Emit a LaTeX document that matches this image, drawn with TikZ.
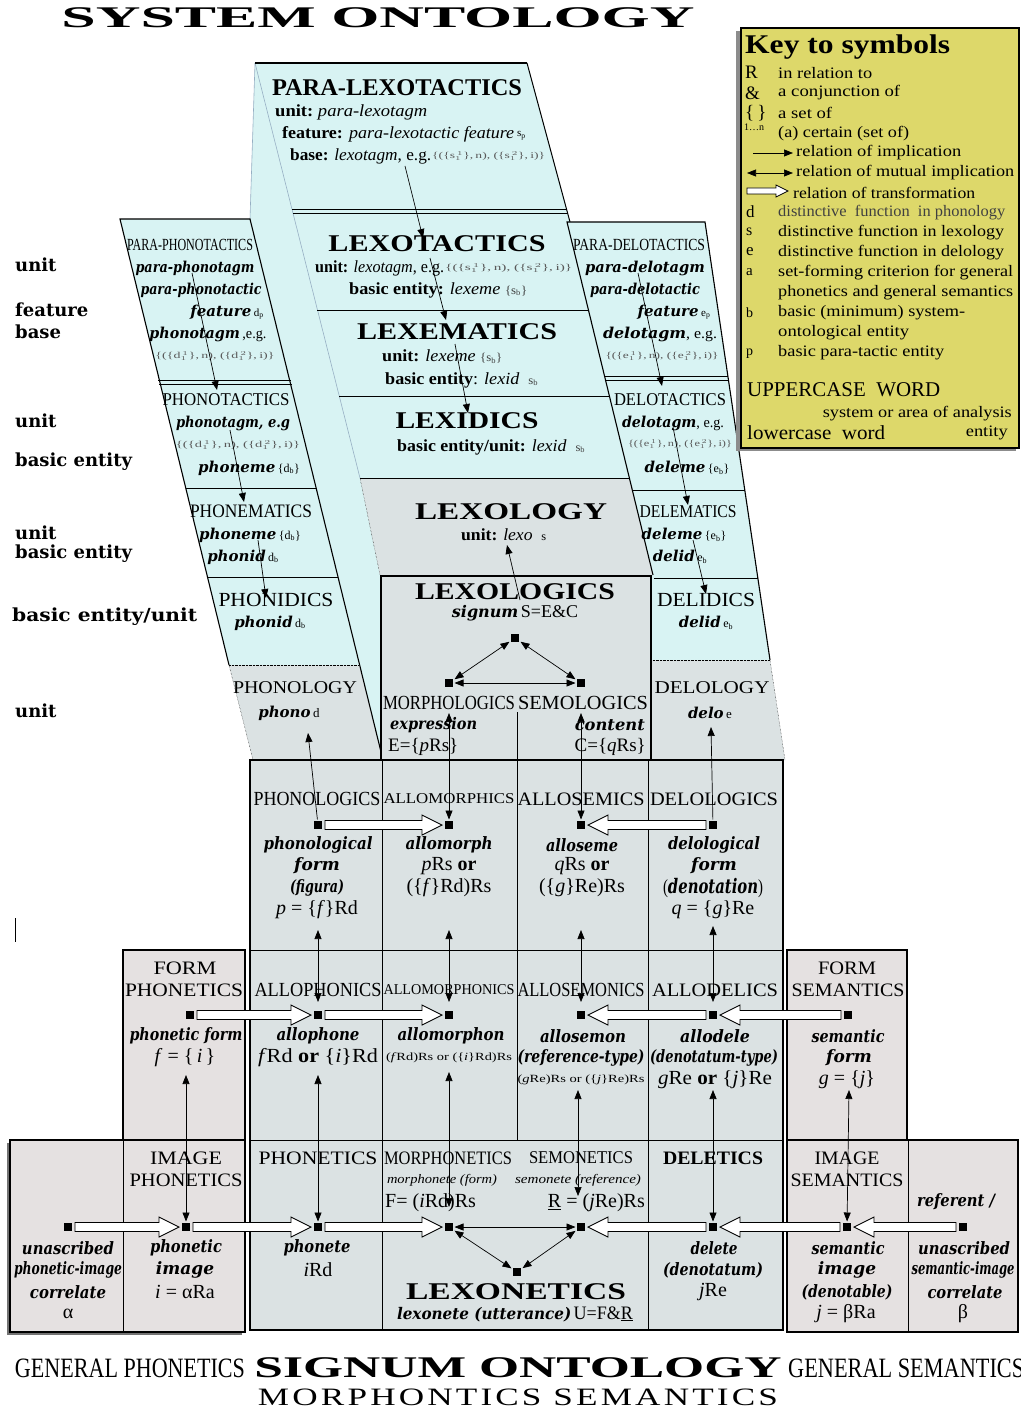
\documentclass[tikz,border=0pt]{standalone}
\usepackage{fontspec}
\usepackage{graphicx}
\setmainfont{Liberation Serif}
\newfontfamily\dv{DejaVu Serif}
\newfontfamily\lsp[LetterSpace=9]{Liberation Serif}
\usetikzlibrary{arrows.meta,calc}
\definecolor{cy}{RGB}{216,243,243}
\definecolor{gy}{RGB}{219,226,227}
\definecolor{pk}{RGB}{229,225,225}
\definecolor{ky}{RGB}{221,216,106}
\definecolor{edgeb}{RGB}{150,175,195}
\newcommand\fs[1]{\fontsize{#1}{#1}\selectfont}
\newcommand\fw[2]{\resizebox{#1pt}{\height}{#2}}
\newcommand\bi[1]{{\dv\bfseries\itshape #1}}
\newcommand\fm[1]{{\fs{9}\color{black!65}\{(\{#1$_1^{\,1}$\},\,n), (\{#1$_1^{\,2}$\},\,i)\}}}
\newcommand\warrR[2]{\draw[warrow] let \p1=(#1), \p2=(#2) in ({\x1+7pt},{\y1+4.5pt}) -- ({\x2-27pt},{\y1+4.5pt}) -- ({\x2-27pt},{\y1+10pt}) -- ({\x2-7pt},{\y1}) -- ({\x2-27pt},{\y1-10pt}) -- ({\x2-27pt},{\y1-4.5pt}) -- ({\x1+7pt},{\y1-4.5pt}) -- cycle;}
\newcommand\warrL[2]{\draw[warrow] let \p1=(#1), \p2=(#2) in ({\x1-7pt},{\y1+4.5pt}) -- ({\x2+27pt},{\y1+4.5pt}) -- ({\x2+27pt},{\y1+10pt}) -- ({\x2+7pt},{\y1}) -- ({\x2+27pt},{\y1-10pt}) -- ({\x2+27pt},{\y1-4.5pt}) -- ({\x1-7pt},{\y1-4.5pt}) -- cycle;}
\newcommand\warrS[2]{\draw[warrow,line width=0.7pt] let \p1=(#1), \p2=(#2) in ({\x1},{\y1+3pt}) -- ({\x2-12pt},{\y1+3pt}) -- ({\x2-12pt},{\y1+6pt}) -- ({\x2},{\y1}) -- ({\x2-12pt},{\y1-6pt}) -- ({\x2-12pt},{\y1-3pt}) -- ({\x1},{\y1-3pt}) -- cycle;}
\begin{document}
\begin{tikzpicture}[x=1pt,y=-1pt,
  t/.style={inner sep=0pt,anchor=west},
  c/.style={inner sep=0pt,anchor=center},
  e/.style={inner sep=0pt,anchor=east},
  sq/.style={fill=black,minimum size=8pt,inner sep=0pt,outer sep=1.5pt},
  imp/.style={-{Triangle[length=9pt,width=7pt]},line width=0.7pt},
  mut/.style={{Triangle[length=9pt,width=7pt]}-{Triangle[length=9pt,width=7pt]},line width=0.7pt},
  warrow/.style={draw=black,fill=white,line width=0.9pt,line join=miter}]
\useasboundingbox (0,0) rectangle (1020,1412);
\fill[white] (0,0) rectangle (1020,1412);

% ---------------- upper structure ----------------
\fill[cy] (255,63) -- (360,478) -- (380,575) -- (380,760) -- (383,760) -- (250,219) -- cycle;
\fill[cy] (255,63) -- (527,63) -- (640,478) -- (360,478) -- cycle;
\draw[edgeb,line width=0.6pt] (255,63) -- (360,478);
\draw[edgeb,line width=0.6pt] (255,63) -- (250,219);
\draw[line width=1.6pt] (255,63) -- (527,63);
\draw[line width=1pt] (527,63) -- (570,222);
\fill[gy] (360,478) -- (640,478) -- (653,575) -- (380,575) -- cycle;
\draw[densely dotted] (360,478) -- (380,575);
\draw (292,209) -- (567,209);
\draw (293,213) -- (568,213);
\draw (317,310) -- (590,310);
\draw (339,396) -- (610,396);
\draw (360,478) -- (630,478);
% left column
\fill[cy] (120,219) -- (250,219) -- (359,665) -- (229,665) -- cycle;
\fill[gy] (229,665) -- (359,665) -- (383,760) -- (253,760) -- cycle;
\draw[line width=1.1pt] (229,665) -- (120,219) -- (250,219) -- (383,760);
\draw[densely dotted] (229,665) -- (253,760);
\draw[densely dotted] (229,665) -- (359,665);
\draw (158,380) -- (291,380);
\draw (159,384) -- (292,384);
\draw (186,488) -- (316,488);
\draw (208,577) -- (338,577);
% right column
\fill[cy] (567,222) -- (705,222) -- (770,660) -- (650,660) -- (650,575) -- (653,575) -- cycle;
\fill[gy] (650,660) -- (770,660) -- (785,760) -- (650,760) -- cycle;
\draw[line width=1.1pt] (653,575) -- (567,222) -- (705,222) -- (770,660);
\draw[densely dotted] (770,660) -- (785,760);
\draw[densely dotted] (650,660) -- (770,660);
\draw (605,376) -- (728,376);
\draw (606,380) -- (729,380);
\draw (632,490) -- (745,490);
\draw (654,578) -- (758,578);
% lexologics box
\node[draw,line width=1.8pt,fill=gy,minimum width=270pt,minimum height=185pt,inner sep=0pt,anchor=north west] (lxbox) at (380,575) {};
\draw (517,712) -- (517,760);

% ---------------- lower grid ----------------
\fill[gy] (250,760) rectangle (783,1330);
\draw (382,760) -- (382,1330);
\draw (517,760) -- (517,1140);
\draw (648,760) -- (648,1330);
\draw (250,950) -- (783,950);
\draw (250,1140) -- (783,1140);
\draw[line width=2pt] (250,760) rectangle (783,1330);
\fill[black!55] (7,1143) rectangle (242,1335);
\draw[fill=pk,line width=2pt] (123,950) rectangle (245,1140);
\draw[fill=pk,line width=2pt] (10,1140) rectangle (245,1332);
\draw (123,1140) -- (123,1332);
\draw[fill=pk,line width=2pt] (787,950) rectangle (907,1140);
\draw[fill=pk,line width=2pt] (787,1140) rectangle (1018,1332);
\draw (908,1140) -- (908,1332);
\draw (15,918) -- (15,942);

% ---------------- key ----------------
\fill[black!45] (736,31) rectangle (1016,451);
\node[draw,fill=ky,line width=1.6pt,inner sep=0pt,minimum width=278pt,minimum height=420pt,anchor=north west] (key) at (740,27) {};
\node[t] (k0) at (745,47) {\fw{205}{\fs{27}\bfseries Key to symbols}};
\node[t] (ks1) at (745,72) {\fs{19}R};
\node[t] (kd1) at (778,73) {\fw{94}{\fs{16}in relation to}};
\node[t] (ks2) at (745,93) {\fs{19}\&};
\node[t] (kd2) at (778,93) {\fw{122}{\fs{16}a conjunction of}};
\node[t] (ks3) at (745,113) {\fs{19}\{\,\}};
\node[t] (kd3) at (778,113) {\fw{54}{\fs{16}a set of}};
\node[t] (ks4) at (744,127) {\fs{10}1\dots n};
\node[t] (kd4) at (778,134) {\fw{131}{\fs{16}(a) certain (set of)}};
\coordinate (ka1) at (753,153); \coordinate (kb1) at (793,153);
\draw[imp] (ka1) -- (kb1);
\node[t] (kd5) at (796,153) {\fw{165}{\fs{16}relation of implication}};
\coordinate (ka2) at (747,173); \coordinate (kb2) at (793,173);
\draw[mut] (ka2) -- (kb2);
\node[t] (kd6) at (796,173) {\fw{218}{\fs{16}relation of mutual implication}};
\coordinate (ka3) at (747,191); \coordinate (kb3) at (788,191);
\warrS{ka3}{kb3}
\node[t] (kd7) at (793,193) {\fw{182}{\fs{16}relation of transformation}};
\node[t] (ks8) at (746,212) {\fs{17}d};
\node[t] (kd8) at (778,213) {\fw{227}{\fs{16}\color{black!75}distinctive\ \ function\ \ in phonology}};
\node[t] (ks9) at (746,232) {\fs{16}s};
\node[t] (kd9) at (778,233) {\fw{226}{\fs{16}distinctive function in lexology}};
\node[t] (ks10) at (746,252) {\fs{17}e};
\node[t] (kd10) at (778,253) {\fw{226}{\fs{16}distinctive function in delology}};
\node[t] (ks11) at (746,272) {\fs{15}a};
\node[t] (kd11) at (778,273) {\fw{235}{\fs{16}set-forming criterion for general}};
\node[t] (kd12) at (778,293) {\fw{235}{\fs{16}phonetics and general semantics}};
\node[t] (ks13) at (746,313) {\fs{14}b};
\node[t] (kd13) at (778,313) {\fw{187}{\fs{16}basic (minimum) system-}};
\node[t] (kd14) at (778,333) {\fw{131}{\fs{16}ontological entity}};
\node[t] (ks15) at (746,354) {\fs{14}p};
\node[t] (kd15) at (778,353) {\fw{166}{\fs{16}basic para-tactic entity}};
\node[t] (kd16) at (747,390) {\fw{193}{\fs{21}UPPERCASE\ \ WORD}};
\node[e] (kd17) at (1012,414) {\fw{189}{\fs{16}system or area of analysis}};
\node[t] (kd18) at (747,433) {\fw{138}{\fs{20}lowercase\ \ word}};
\node[e] (kd19) at (1008,433) {\fw{42}{\fs{16}entity}};

% ---------------- titles ----------------
\node[c] (title) at (378,18) {\fw{633}{\fs{30}\bfseries SYSTEM ONTOLOGY}};
\node[c] (gp) at (130,1368) {\fw{230}{\fs{28}GENERAL PHONETICS}};
\node[c] (so) at (518,1368) {\fw{527}{\fs{30}\bfseries SIGNUM ONTOLOGY}};
\node[t] (gs) at (788,1368) {\fw{236}{\fs{28}GENERAL SEMANTICS}};
\node[c] (ms) at (518,1397) {\fw{520}{\lsp\fs{25}MORPHONTICS SEMANTICS}};

% ---------------- left labels ----------------
\node[t] (lu1) at (15,265) {\dv\bfseries\fs{18}unit};
\node[t] (lf1) at (15,310) {\dv\bfseries\fs{18}feature};
\node[t] (lb1) at (15,332) {\dv\bfseries\fs{18}base};
\node[t] (lu2) at (15,421) {\dv\bfseries\fs{18}unit};
\node[t] (le2) at (15,462) {\dv\bfseries\fs{18}basic entity};
\node[t] (lu3) at (15,533) {\dv\bfseries\fs{18}unit};
\node[t] (le3) at (15,554) {\dv\bfseries\fs{18}basic entity};
\node[t] (le4) at (12,617) {\fw{185}{\dv\bfseries\fs{18}basic entity/unit}};
\node[t] (lu5) at (15,711) {\dv\bfseries\fs{18}unit};

% ---------------- central column texts ----------------
\node[c] (plx) at (397,88) {\fw{250}{\fs{24}\bfseries PARA-LEXOTACTICS}};
\node[t] (plx1) at (275,112) {\fw{152}{\fs{17}\textbf{unit:}\ \textit{para-lexotagm}}};
\node[t] (plx2) at (282,134) {\fw{232}{\fs{17}\textbf{feature:} \textit{para-lexotactic feature}}};
\node[t] (plx2s) at (517,136) {\fs{11}s\textsubscript{p}};
\node[t] (plx3) at (290,156) {\fw{141}{\fs{17}\textbf{base:} \textit{lexotagm}, e.g.}};
\node[t] (plx3f) at (432,156) {\fw{113}{\fm{s}}};
\node[c] (lxt) at (437,244) {\fw{217}{\fs{24}\bfseries LEXOTACTICS}};
\node[t] (lxt1) at (315,268) {\fw{129}{\fs{17}\textbf{unit:} \textit{lexotagm}, e.g.}};
\node[t] (lxt1f) at (445,268) {\fw{127}{\fm{s}}};
\node[t] (lxt2) at (349,290) {\fw{178}{\fs{17}\textbf{basic entity:} \textit{lexeme} {\fs{12}\color{black!75}\{s\textsubscript{b}\}}}};
\node[c] (lxm) at (457,332) {\fw{200}{\fs{24}\bfseries LEXEMATICS}};
\node[t] (lxm1) at (382,357) {\fw{120}{\fs{17}\textbf{unit:} \textit{lexeme} {\fs{12}\color{black!75}\{s\textsubscript{b}\}}}};
\node[t] (lxm2) at (385,380) {\fw{153}{\fs{17}\textbf{basic entity}: \textit{lexid}\ \ {\fs{12}\color{black!75}s\textsubscript{b}}}};
\node[c] (lxd) at (467,421) {\fw{143}{\fs{24}\bfseries LEXIDICS}};
\node[t] (lxd1) at (397,447) {\fw{188}{\fs{17}\textbf{basic entity/unit:} \textit{lexid}\ \ {\fs{12}\color{black!75}s\textsubscript{b}}}};
\node[c] (lxy) at (511,512) {\fw{192}{\fs{24}\bfseries LEXOLOGY}};
\node[t] (lxy1) at (461,535) {\fw{85}{\fs{17}\textbf{unit:} \textit{lexo}\ \ {\fs{12}s}}};

% ---------------- left column texts ----------------
\node[c] (pph) at (190,245) {\fw{126}{\fs{17}PARA-PHONOTACTICS}};
\node[c] (pph1) at (195,268) {\fw{119}{\bi{\fs{15}para-phonotagm}}};
\node[c] (pph2) at (201,290) {\fw{121}{\bi{\fs{15}para-phonotactic}}};
\node[c] (pph3) at (227,312) {\bi{\fs{15}feature} {\fs{11}d\textsubscript{p}}};
\node[c] (pph4) at (208,334) {\fw{117}{\bi{\fs{15}phonotagm} {\fs{15},e.g.}}};
\node[c] (pph5) at (215,356) {\fw{119}{\fm{d}}};
\node[c] (pht) at (226,400) {\fw{127}{\fs{18}PHONOTACTICS}};
\node[c] (pht1) at (233,423) {\fw{114}{\bi{\fs{15}phonotagm, e.g}}};
\node[c] (pht2) at (238,445) {\fw{124}{\fm{d}}};
\node[c] (pht3) at (249,468) {\bi{\fs{15}phoneme} {\fs{12}\{d\textsubscript{b}\}}};
\node[c] (phm) at (251,511) {\fw{122}{\fs{19}PHONEMATICS}};
\node[c] (phm1) at (250,535) {\bi{\fs{15}phoneme} {\fs{12}\{d\textsubscript{b}\}}};
\node[c] (phm2) at (243,557) {\bi{\fs{15}phonid} {\fs{12}d\textsubscript{b}}};
\node[c] (phd) at (276,600) {\fw{115}{\fs{20}PHONIDICS}};
\node[c] (phd1) at (270,623) {\bi{\fs{15}phonid} {\fs{12}d\textsubscript{b}}};
\node[c] (pho) at (295,688) {\fw{124}{\fs{18}PHONOLOGY}};
\node[c] (pho1) at (289,713) {\bi{\fs{15}phono} {\fs{13}d}};

% ---------------- right column texts ----------------
\node[c] (pdl) at (639,245) {\fw{132}{\fs{17}PARA-DELOTACTICS}};
\node[c] (pdl1) at (645,268) {\fw{120}{\bi{\fs{15}para-delotagm}}};
\node[c] (pdl2) at (645,290) {\fw{110}{\bi{\fs{15}para-delotactic}}};
\node[c] (pdl3) at (674,312) {\bi{\fs{15}feature} {\fs{11}e\textsubscript{p}}};
\node[c] (pdl4) at (660,334) {\fw{114}{\bi{\fs{15}delotagm}{\fs{15}, e.g.}}};
\node[c] (pdl5) at (662,356) {\fw{113}{\fm{e}}};
\node[c] (dlt) at (670,400) {\fw{112}{\fs{18}DELOTACTICS}};
\node[c] (dlt1) at (673,423) {\fw{102}{\bi{\fs{15}delotagm}{\fs{15}, e.g.}}};
\node[c] (dlt2) at (680,444) {\fw{104}{\fm{e}}};
\node[c] (dlt3) at (687,468) {\bi{\fs{15}deleme} {\fs{12}\{e\textsubscript{b}\}}};
\node[c] (dlm) at (688,512) {\fw{97}{\fs{18}DELEMATICS}};
\node[c] (dlm1) at (684,535) {\bi{\fs{15}deleme} {\fs{12}\{e\textsubscript{b}\}}};
\node[c] (dlm2) at (680,557) {\bi{\fs{15}delid} {\fs{12}e\textsubscript{b}}};
\node[c] (dld) at (706,600) {\fw{98}{\fs{20}DELIDICS}};
\node[c] (dld1) at (706,623) {\bi{\fs{15}delid} {\fs{12}e\textsubscript{b}}};
\node[c] (dlo) at (712,688) {\fw{115}{\fs{18}DELOLOGY}};
\node[c] (dlo1) at (710,713) {\bi{\fs{15}delo} {\fs{13}e}};

% ---------------- lexologics texts ----------------
\node[c] (lgs) at (515,592) {\fw{200}{\fs{24}\bfseries LEXOLOGICS}};
\node[c] (lgs1) at (515,613) {\bi{\fs{16}signum} {\fs{18}S=E\&C}};
\node[c] (mlg) at (449,703) {\fw{132}{\fs{20}MORPHOLOGICS}};
\node[c] (slg) at (583,703) {\fw{130}{\fs{20}SEMOLOGICS}};
\node[t] (mlg1) at (390,725) {\fw{87}{\bi{\fs{16}expression}}};
\node[t] (mlg2) at (388,747) {\fs{19}E=\{\textit{p}Rs\}};
\node[e] (slg1) at (645,725) {\fw{70}{\bi{\fs{16}content}}};
\node[e] (slg2) at (646,747) {\fs{19}C=\{\textit{q}Rs\}};

% ---------------- row 1 ----------------
\node[c] (h11) at (317,799) {\fw{127}{\fs{20}PHONOLOGICS}};
\node[c] (h12) at (449,799) {\fw{131}{\fs{15}ALLOMORPHICS}};
\node[c] (h13) at (581,799) {\fw{127}{\fs{19}ALLOSEMICS}};
\node[c] (h14) at (714,799) {\fw{128}{\fs{19}DELOLOGICS}};
\node[c] (r11a) at (318,845) {\fw{109}{\bi{\fs{17}phonological}}};
\node[c] (r11b) at (317,866) {\bi{\fs{17}form}};
\node[c] (r11c) at (317,888) {\fw{54}{\bi{\fs{17}(figura)}}};
\node[c] (r11d) at (317,910) {\fs{20}\textit{p} = \{\textit{f}\}Rd};
\node[c] (r12a) at (449,845) {\fw{87}{\bi{\fs{17}allomorph}}};
\node[c] (r12b) at (449,866) {\fs{20}\textit{p}Rs \textbf{or}};
\node[c] (r12c) at (449,888) {\fs{20}(\{\textit{f}\}Rd)Rs};
\node[c] (r13a) at (582,845) {\fw{72}{\bi{\fs{17}alloseme}}};
\node[c] (r13b) at (582,866) {\fs{20}\textit{q}Rs \textbf{or}};
\node[c] (r13c) at (582,888) {\fs{20}(\{\textit{g}\}Re)Rs};
\node[c] (r14a) at (714,845) {\fw{92}{\bi{\fs{17}delological}}};
\node[c] (r14b) at (714,866) {\bi{\fs{17}form}};
\node[c] (r14c) at (713,888) {\fw{100}{\fs{20}(\bi{denotation})}};
\node[c] (r14d) at (713,910) {\fs{20}\textit{q} = \{\textit{g}\}Re};

% ---------------- row 2 ----------------
\node[c] (h2a) at (185,968) {\fw{63}{\fs{19}FORM}};
\node[c] (h2b) at (184,990) {\fw{118}{\fs{19}PHONETICS}};
\node[c] (h21) at (318,990) {\fw{127}{\fs{20}ALLOPHONICS}};
\node[c] (h22) at (449,990) {\fw{131}{\fs{15}ALLOMORPHONICS}};
\node[c] (h23) at (581,990) {\fw{127}{\fs{20}ALLOSEMONICS}};
\node[c] (h24) at (715,990) {\fw{126}{\fs{19}ALLODELICS}};
\node[c] (h25a) at (847,968) {\fw{58}{\fs{19}FORM}};
\node[c] (h25b) at (848,990) {\fw{113}{\fs{19}SEMANTICS}};
\node[c] (r20a) at (186,1036) {\fw{113}{\bi{\fs{17}phonetic form}}};
\node[c] (r20b) at (185,1058) {\fs{20}\textit{f} = \{\,\textit{i}\,\}};
\node[c] (r21a) at (318,1036) {\fw{83}{\bi{\fs{17}allophone}}};
\node[c] (r21b) at (318,1058) {\fw{120}{\fs{20}\textit{f}Rd\ \textbf{or}\ \{\textit{i}\}Rd}};
\node[c] (r22a) at (451,1036) {\fw{107}{\bi{\fs{17}allomorphon}}};
\node[c] (r22b) at (449,1058) {\fw{126}{\fs{11}(\textit{f}Rd)Rs or (\{\textit{i}\}Rd)Rs}};
\node[c] (r23a) at (583,1036) {\fw{86}{\bi{\fs{17}allosemon}}};
\node[c] (r23b) at (581,1058) {\fw{127}{\bi{\fs{17}(reference-type)}}};
\node[c] (r23c) at (581,1080) {\fw{127}{\fs{11}(\textit{g}Re)Rs or (\{\textit{j}\}Re)Rs}};
\node[c] (r24a) at (715,1036) {\fw{70}{\bi{\fs{17}allodele}}};
\node[c] (r24b) at (714,1058) {\fw{128}{\bi{\fs{17}(denotatum-type)}}};
\node[c] (r24c) at (715,1080) {\fw{114}{\fs{20}\textit{g}Re\ \textbf{or}\ \{\textit{j}\}Re}};
\node[c] (r25a) at (848,1036) {\fw{73}{\bi{\fs{17}semantic}}};
\node[c] (r25b) at (849,1058) {\bi{\fs{17}form}};
\node[c] (r25c) at (847,1080) {\fs{20}\textit{g} = \{\textit{j}\}};

% ---------------- row 3 ----------------
\node[c] (h3a) at (186,1158) {\fw{72}{\fs{19}IMAGE}};
\node[c] (h3b) at (186,1180) {\fw{113}{\fs{19}PHONETICS}};
\node[c] (h31) at (318,1158) {\fw{119}{\fs{19}PHONETICS}};
\node[c] (h32) at (448,1158) {\fw{128}{\fs{19}MORPHONETICS}};
\node[c] (h33) at (581,1158) {\fw{104}{\fs{18}SEMONETICS}};
\node[c] (h34) at (713,1158) {\fw{100}{\fs{19}\bfseries DELETICS}};
\node[c] (h35a) at (847,1158) {\fw{65}{\fs{19}IMAGE}};
\node[c] (h35b) at (847,1180) {\fw{113}{\fs{19}SEMANTICS}};
\node[c] (r3xa) at (68,1248) {\fw{92}{\bi{\fs{17}unascribed}}};
\node[c] (r3xb) at (68,1270) {\fw{108}{\bi{\fs{17}phonetic-image}}};
\node[c] (r3xc) at (68,1292) {\fw{76}{\bi{\fs{17}correlate}}};
\node[c] (r3xd) at (68,1314) {\fs{20}α};
\node[c] (r30a) at (186,1248) {\fw{72}{\bi{\fs{17}phonetic}}};
\node[c] (r30b) at (185,1270) {\bi{\fs{17}image}};
\node[c] (r30c) at (185,1292) {\fs{20}\textit{i} = αRa};
\node[c] (r31a) at (317,1248) {\fw{67}{\bi{\fs{17}phonete}}};
\node[c] (r31b) at (318,1270) {\fs{20}\textit{i}Rd};
\node[c] (r32a) at (442,1180) {\fw{110}{\fs{13}\itshape morphonete (form)}};
\node[t] (r32b) at (385,1203) {\fs{20}F= (\textit{i}Rd)Rs};
\node[c] (r33a) at (578,1180) {\fw{126}{\fs{13}\itshape semonete (reference)}};
\node[e] (r33b) at (645,1203) {\fs{20}\underline{R} = (\textit{j}Re)Rs};
\node[c] (lxn) at (516,1292) {\fw{220}{\fs{24}\bfseries LEXONETICS}};
\node[c] (lxn1) at (515,1314) {\fw{236}{\bi{\fs{16}lexonete (utterance)} {\fs{19}U=F\&\underline{R}}}};
\node[c] (r34a) at (714,1248) {\fw{47}{\bi{\fs{17}delete}}};
\node[c] (r34b) at (713,1270) {\fw{100}{\bi{\fs{17}(denotatum)}}};
\node[c] (r34c) at (713,1292) {\fs{20}\textit{j}Re};
\node[c] (r35a) at (848,1248) {\fw{73}{\bi{\fs{17}semantic}}};
\node[c] (r35b) at (847,1270) {\bi{\fs{17}image}};
\node[c] (r35c) at (847,1292) {\fw{91}{\bi{\fs{17}(denotable)}}};
\node[c] (r35d) at (846,1314) {\fs{20}\textit{j} = βRa};
\node[c] (r36a) at (956,1202) {\fw{78}{\bi{\fs{17}referent /}}};
\node[c] (r36b) at (964,1248) {\fw{92}{\bi{\fs{17}unascribed}}};
\node[c] (r36c) at (963,1270) {\fw{103}{\bi{\fs{17}semantic-image}}};
\node[c] (r36d) at (965,1292) {\fw{75}{\bi{\fs{17}correlate}}};
\node[c] (r36e) at (963,1314) {\fs{20}β};

% ---------------- squares ----------------
\node[sq] (T) at (515,638) {};
\node[sq] (Lf) at (449,683) {};
\node[sq] (Rt) at (581,683) {};
\node[sq] (P1) at (318,825) {};
\node[sq] (P2) at (449,825) {};
\node[sq] (P3) at (581,825) {};
\node[sq] (P4) at (713,825) {};
\node[sq] (A0) at (190,1015) {};
\node[sq] (A1) at (318,1015) {};
\node[sq] (A2) at (449,1015) {};
\node[sq] (A3) at (581,1015) {};
\node[sq] (A4) at (713,1015) {};
\node[sq] (A5) at (848,1015) {};
\node[sq] (Bx) at (68,1227) {};
\node[sq] (B0) at (186,1227) {};
\node[sq] (B1) at (318,1227) {};
\node[sq] (B2) at (449,1227) {};
\node[sq] (B3) at (581,1227) {};
\node[sq] (B4) at (713,1227) {};
\node[sq] (B5) at (847,1227) {};
\node[sq] (B6) at (963,1227) {};
\node[sq] (L) at (517,1272) {};

% ---------------- arrows, upper ----------------
\coordinate (c1) at (405,166); \coordinate (c1t) at (423,238);
\coordinate (c2) at (430,258); \coordinate (c2t) at (446,320);
\coordinate (c3) at (455,344); \coordinate (c3t) at (468,413);
\draw[imp] (c1) -- (c1t);
\draw[imp] (c2) -- (c2t);
\draw[imp] (c3) -- (c3t);
\coordinate (l1) at (192,273); \coordinate (l1t) at (217,390);
\coordinate (l2) at (230,430); \coordinate (l2t) at (244,502);
\coordinate (l3) at (258,540); \coordinate (l3t) at (266,598);
\draw[imp] (l1) -- (l1t);
\draw[imp] (l2) -- (l2t);
\draw[imp] (l3) -- (l3t);
\coordinate (r1) at (638,273); \coordinate (r1t) at (662,386);
\coordinate (r2) at (673,427); \coordinate (r2t) at (688,505);
\coordinate (r3) at (693,540); \coordinate (r3t) at (706,594);
\draw[imp] (r1) -- (r1t);
\draw[imp] (r2) -- (r2t);
\draw[imp] (r3) -- (r3t);
\coordinate (lxa) at (520,600); \coordinate (lxb) at (507,545);
\draw[imp] (lxa) -- (lxb);
\draw[mut] (T) -- (Lf);
\draw[mut] (T) -- (Rt);
\draw[mut] (Lf) -- (Rt);
\coordinate (pt) at (308,733); \coordinate (dt) at (711,727);
\draw[imp] (P1) -- (pt);
\draw[imp] (P4) -- (dt);
\coordinate (m1) at (449,713); \coordinate (s1) at (581,713);
\draw[mut] (m1) -- (P2);
\draw[mut] (s1) -- (P3);

% ---------------- arrows, rows ----------------
\coordinate (u1) at (318,930); \coordinate (d1) at (318,1002);
\coordinate (u2) at (449,930); \coordinate (d2) at (449,1002);
\coordinate (u3) at (581,930); \coordinate (d3) at (581,1002);
\coordinate (u4) at (713,926); \coordinate (d4) at (713,1002);
\draw[mut] (u1) -- (d1);
\draw[mut] (u2) -- (d2);
\draw[mut] (u3) -- (d3);
\draw[mut] (u4) -- (d4);
\coordinate (e0) at (186,1075);
\coordinate (e1) at (318,1075);
\coordinate (e2) at (449,1072); \coordinate (f2) at (449,1207);
\coordinate (e3) at (578,1090); \coordinate (f3) at (578,1196);
\coordinate (e4) at (713,1090);
\coordinate (e5) at (849,1090);
\draw[mut] (e0) -- (B0);
\draw[mut] (e1) -- (B1);
\draw[mut] (e2) -- (f2);
\draw[mut] (e3) -- (f3);
\draw[mut] (e4) -- (B4);
\draw[mut] (e5) -- (B5);
\draw[mut] (B2) -- (B3);
\draw[mut] (B2) -- (L);
\draw[mut] (B3) -- (L);

% white transformation arrows
\warrR{P1}{P2}
\warrL{P4}{P3}
\warrR{A0}{A1}
\warrR{A1}{A2}
\warrL{A5}{A4}
\warrL{A4}{A3}
\warrR{Bx}{B0}
\warrR{B0}{B1}
\warrR{B1}{B2}
\warrL{B6}{B5}
\warrL{B5}{B4}
\warrL{B4}{B3}
\end{tikzpicture}
\end{document}
